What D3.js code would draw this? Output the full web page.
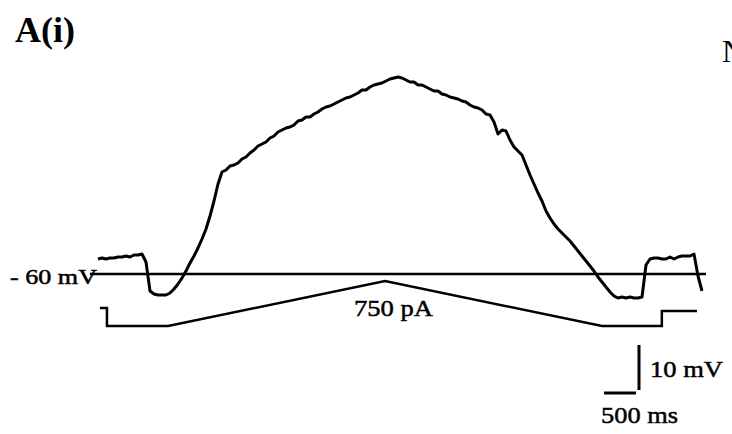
<!DOCTYPE html>
<html>
<head>
<meta charset="utf-8">
<script src="https://cdnjs.cloudflare.com/ajax/libs/d3/7.8.5/d3.min.js"></script>
<style>
    html, body { margin: 0; padding: 0; background: #fff; }
    svg { display: block; }
    text { font-family: "Liberation Serif", "Times New Roman", serif; fill: #000; }
    .label { stroke: #000; stroke-width: 0.5px; }
</style>
</head>
<body>
<div id="chart"></div>
<script>
// membrane potential, sampled every 62.5 ms (mV)
var sampleMs = 62.5;
var voltage = [
    -57.0, -56.8, -57.0, -56.8, -56.8, -56.6, -56.6, -56.4, -56.6, -56.2, -56.2, -56.0,
    -57.6, -63.4,
    -64.0, -64.2, -64.2, -64.2,
    -63.8, -63.0, -62.0, -60.8, -59.4, -57.8, -56.4, -54.8, -53.0, -51.0, -48.4, -45.4, -42.0, -39.6,
    -39.2, -38.4, -38.2, -37.8, -37.0, -36.6, -35.8, -35.2, -34.4, -34.0,
    -33.6, -32.8, -32.4, -31.6, -31.2, -30.8, -30.6, -30.2, -29.4, -29.2,
    -28.6, -28.6, -28.0, -27.6, -27.0, -26.6, -26.4, -26.0, -25.6, -25.2,
    -24.8, -24.6, -24.2, -23.8, -23.2, -23.2, -22.6, -22.2, -22.0, -21.8,
    -21.4, -21.0, -20.8, -20.6, -20.8, -21.2, -21.6, -21.6, -22.2, -22.2,
    -22.6, -23.0, -23.4, -23.4, -24.0, -24.2, -24.6, -24.8, -25.0, -25.4,
    -25.6, -26.2, -26.6, -26.8, -27.2, -28.0, -28.2, -29.6, -32.0, -31.2,
    -31.4, -33.2, -34.6, -35.4, -36.2, -38.2, -40.2, -42.0, -43.8, -45.4,
    -47.4, -48.8, -50.0, -51.0, -51.8, -52.6, -53.4, -54.4, -55.4, -56.4,
    -57.4, -58.4, -59.4, -60.6, -61.6, -62.6, -63.6, -64.4, -64.8, -64.6,
    -64.8, -64.6, -64.8, -64.8, -64.6, -58.2, -57.0, -56.8, -56.8, -57.0,
    -57.0, -56.6, -57.0, -56.6, -56.4, -56.4, -56.4, -56.0, -60.4, -63.4
];

// injected current command (ms, pA)
var commandTimes = [30, 140, 140, 1095, 4485, 7875, 8810, 8810, 9360];
var commandPA = [0, 0, -500, -500, 750, -500, -500, -80, -80];

var holdingMV = -60;
var holdingSpan = [-125, 9500];
var peakPA = 750;
var scaleBarMV = 10;
var scaleBarMs = 500;

var width = 732, height = 434;

var svg = d3.select('#chart').append('svg')
    .attr('width', width)
    .attr('height', height);

var x = d3.scaleLinear().domain([0, 9500]).range([98, 706]);
var y = d3.scaleLinear().domain([-60, -20]).range([274, 74]);
var yI = d3.scaleLinear().domain([0, 750]).range([308, 281]);

var vLine = d3.line()
    .x(function(d, i) { return x(i * sampleMs); })
    .y(function(d) { return y(d); });

var iLine = d3.line()
    .x(function(d, i) { return x(commandTimes[i]); })
    .y(function(d) { return yI(d); });

// holding potential
svg.append('line')
    .attr('x1', x(holdingSpan[0]))
    .attr('x2', x(holdingSpan[1]))
    .attr('y1', y(holdingMV))
    .attr('y2', y(holdingMV))
    .style('stroke', '#000')
    .style('stroke-width', 2.5);

svg.append('path')
    .datum(voltage)
    .attr('d', vLine)
    .attr('fill', 'none')
    .style('stroke', '#000')
    .style('stroke-width', 3)
    .style('stroke-linejoin', 'round');

svg.append('path')
    .datum(commandPA)
    .attr('d', iLine)
    .attr('fill', 'none')
    .style('stroke', '#000')
    .style('stroke-width', 2.5);

// scale bars
var cornerX = 639, cornerY = 393;
svg.append('line')
    .attr('x1', cornerX).attr('x2', cornerX)
    .attr('y1', cornerY - 3).attr('y2', cornerY - 3 - (y(holdingMV) - y(holdingMV + scaleBarMV)) * 0.9)
    .style('stroke', '#000')
    .style('stroke-width', 3);
svg.append('line')
    .attr('x1', cornerX - 3 - (x(scaleBarMs) - x(0))).attr('x2', cornerX - 3)
    .attr('y1', cornerY).attr('y2', cornerY)
    .style('stroke', '#000')
    .style('stroke-width', 3);

svg.append('text')
    .attr('x', 15).attr('y', 42)
    .style('font-size', '36px')
    .style('font-weight', 'bold')
    .text('A(i)');

svg.append('text')
    .attr('x', 722).attr('y', 62)
    .style('font-size', '32px')
    .text('N');

svg.append('text')
    .attr('class', 'label')
    .attr('x', 10).attr('y', 284)
    .attr('textLength', 87)
    .attr('lengthAdjust', 'spacingAndGlyphs')
    .style('font-size', '21px')
    .text('- 60 mV');

svg.append('text')
    .attr('class', 'label')
    .attr('x', 354).attr('y', 316)
    .attr('textLength', 79)
    .attr('lengthAdjust', 'spacingAndGlyphs')
    .style('font-size', '24px')
    .text(peakPA + ' pA');

svg.append('text')
    .attr('class', 'label')
    .attr('x', 650).attr('y', 377)
    .attr('textLength', 73)
    .attr('lengthAdjust', 'spacingAndGlyphs')
    .style('font-size', '23px')
    .text(scaleBarMV + ' mV');

svg.append('text')
    .attr('class', 'label')
    .attr('x', 601).attr('y', 423)
    .attr('textLength', 77)
    .attr('lengthAdjust', 'spacingAndGlyphs')
    .style('font-size', '24px')
    .text(scaleBarMs + ' ms');
</script>
</body>
</html>
